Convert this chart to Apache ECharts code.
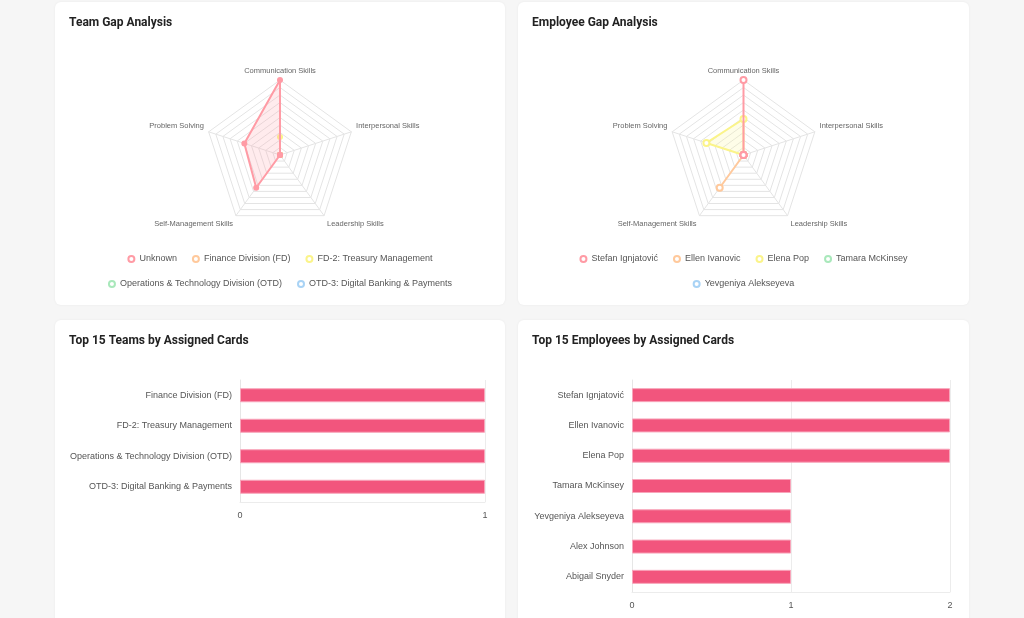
<!DOCTYPE html>
<html>
<head>
<meta charset="utf-8">
<script src="https://cdn.jsdelivr.net/npm/echarts@6/dist/echarts.min.js"></script>
<style>
  html, body { margin: 0; padding: 0; width: 1024px; height: 618px; overflow: hidden; background: #f6f6f6; }
  .card { position: absolute; background: #fff; border-radius: 6px; box-shadow: 0 0 3px rgba(0,0,0,0.05); overflow: hidden; }
</style>
</head>
<body>
<div class="card" id="teamRadar" style="left:55px;top:2px;width:450px;height:303px"></div>
<div class="card" id="empRadar" style="left:518px;top:2px;width:451px;height:303px"></div>
<div class="card" id="teamBar" style="left:55px;top:320px;width:450px;height:330px"></div>
<div class="card" id="empBar" style="left:518px;top:320px;width:451px;height:330px"></div>
<script>
// radar axes (ECharts lays them out counter-clockwise from the top)
const skills = ['Communication Skills', 'Problem Solving', 'Self-Management Skills', 'Leadership Skills', 'Interpersonal Skills']

// team gap values, same order as skills
const teamNames = ['Unknown', 'Finance Division (FD)', 'FD-2: Treasury Management', 'Operations & Technology Division (OTD)', 'OTD-3: Digital Banking & Payments']
const gapUnknown = [100, 50, 54, 0, 0]
const gapFD = [0, 0, 0, 0, 0]
const gapFD2 = [24, 0, 0, 0, 0]
const gapOTD = [0, 0, 0, 0, 0]
const gapOTD3 = [0, 0, 0, 0, 0]

// employee gap values
const empRadarNames = ['Stefan Ignjatović', 'Ellen Ivanovic', 'Elena Pop', 'Tamara McKinsey', 'Yevgeniya Alekseyeva']
const gapStefan = [100, 0, 0, 0, 0]
const gapEllen = [0, 0, 54, 0, 0]
const gapElena = [48, 52, 0, 0, 0]
const gapTamara = [0, 0, 0, 0, 0]
const gapYevgeniya = [0, 0, 0, 0, 0]

// top 15 bars
const teamCats = ['Finance Division (FD)', 'FD-2: Treasury Management', 'Operations & Technology Division (OTD)', 'OTD-3: Digital Banking & Payments']
const teamCards = [1, 1, 1, 1]
const empCats = ['Stefan Ignjatović', 'Ellen Ivanovic', 'Elena Pop', 'Tamara McKinsey', 'Yevgeniya Alekseyeva', 'Alex Johnson', 'Abigail Snyder']
const empCards = [2, 2, 2, 1, 1, 1, 1]

const palette = ['#ff9ba5', '#ffc99c', '#fbf48a', '#a9e8bb', '#a9d3f5']
const labelFont = 'Liberation Sans, Arial, sans-serif'

const titleOpt = (text) => ({
  text,
  left: 14,
  top: 15,
  padding: 0,
  textStyle: { fontFamily: 'Roboto, sans-serif', fontSize: 12, fontWeight: 'bold', color: '#222' }
})

const legendRow = (data, top) => ({
  data,
  top,
  left: 'center',
  icon: 'emptyCircle',
  itemWidth: 6,
  itemHeight: 6,
  itemGap: 15,
  itemStyle: { borderWidth: 1 },
  textStyle: { fontFamily: labelFont, fontSize: 9, color: '#555' }
})

// nudge the side / bottom axis names a little, like the original
const nameStyle = (name) => {
  const i = skills.indexOf(name)
  if (i === 0) return name
  return (i === 1 || i === 4 ? '{side|' : '{low|') + name + '}'
}

const radarOption = (title, names, values, firstRow, symbol) => ({
  color: palette,
  title: titleOpt(title),
  legend: [
    legendRow(names.slice(0, firstRow), 247.5),
    legendRow(names.slice(firstRow), 272.5)
  ],
  radar: {
    center: ['50%', 153],
    radius: 75,
    splitNumber: 10,
    nameGap: 5,
    axisName: {
      fontFamily: labelFont, fontSize: 7.5, color: '#666',
      formatter: nameStyle,
      rich: {
        side: { fontFamily: labelFont, fontSize: 7.5, color: '#666', padding: [0, 0, 8, 0] },
        low: { fontFamily: labelFont, fontSize: 7.5, color: '#666', padding: [8, 0, 0, 0] }
      }
    },
    indicator: skills.map(s => ({ name: s, max: 100 })),
    splitLine: { lineStyle: { color: '#e4e4e4', width: 1 } },
    axisLine: { lineStyle: { color: '#e4e4e4' } },
    splitArea: { show: false }
  },
  // one series per name, the first one drawn on top
  series: names.map((n, i) => ({
    type: 'radar',
    name: n,
    z: 10 - i,
    symbol,
    symbolSize: 6,
    lineStyle: { width: 2 },
    areaStyle: { opacity: 0.2 },
    data: [{ name: n, value: values[i] }]
  }))
})

const barOption = (title, cats, vals, max, left, width, height) => ({
  title: titleOpt(title),
  grid: { left, top: 60, width, height },
  xAxis: {
    type: 'value', min: 0, max, interval: 1,
    axisLine: { show: true, lineStyle: { color: '#ececec' } },
    axisTick: { show: false },
    splitLine: { lineStyle: { color: '#ececec' } },
    axisLabel: { fontFamily: labelFont, fontSize: 9, color: '#555', margin: 9 }
  },
  yAxis: {
    type: 'category', data: cats, inverse: true,
    axisLine: { lineStyle: { color: '#e6e6e6' } },
    axisTick: { show: false },
    axisLabel: { fontFamily: labelFont, fontSize: 9, color: '#555', margin: 8 }
  },
  series: [{
    type: 'bar',
    data: vals,
    barWidth: 14,
    itemStyle: { color: '#f2557d', borderColor: '#f8a5ba', borderWidth: 1 }
  }]
})

const teamRadar = echarts.init(document.getElementById('teamRadar'))
teamRadar.setOption(radarOption('Team Gap Analysis', teamNames,
  [gapUnknown, gapFD, gapFD2, gapOTD, gapOTD3], 3, 'circle'))

const empRadar = echarts.init(document.getElementById('empRadar'))
empRadar.setOption(radarOption('Employee Gap Analysis', empRadarNames,
  [gapStefan, gapEllen, gapElena, gapTamara, gapYevgeniya], 4, 'emptyCircle'))

const teamBar = echarts.init(document.getElementById('teamBar'))
teamBar.setOption(barOption('Top 15 Teams by Assigned Cards', teamCats, teamCards, 1, 185, 245, 122))

const empBar = echarts.init(document.getElementById('empBar'))
empBar.setOption(barOption('Top 15 Employees by Assigned Cards', empCats, empCards, 2, 114, 318, 212))
</script>
</body>
</html>
